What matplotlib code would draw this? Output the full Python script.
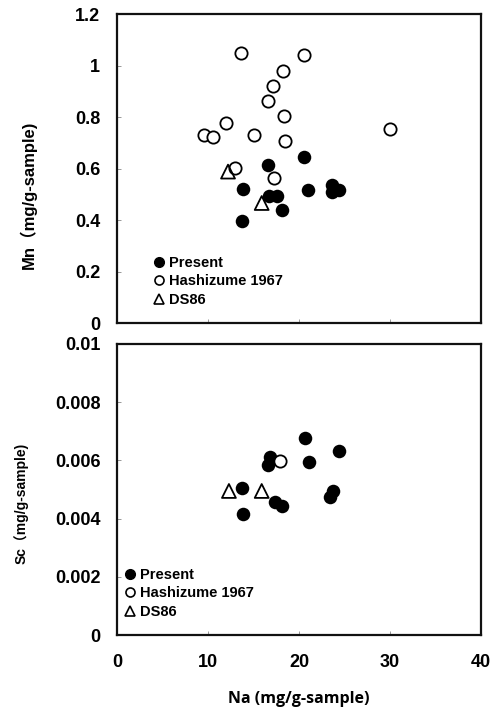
import matplotlib
matplotlib.use("Agg")
import matplotlib.pyplot as plt
from matplotlib.lines import Line2D

# ---------------- data ----------------
# Mn vs Na
mn_present_na = [20.6, 16.6, 13.8, 21.0, 23.6, 24.4, 23.6, 16.7, 17.6, 18.1, 13.7]
mn_present_mn = [0.643, 0.612, 0.522, 0.517, 0.537, 0.517, 0.508, 0.495, 0.495, 0.440, 0.398]
mn_hashi_na = [13.6, 20.6, 18.2, 17.1, 16.6, 18.3, 12.0, 9.6, 10.5, 15.1, 18.5, 30.0, 13.0, 17.3]
mn_hashi_mn = [1.050, 1.041, 0.980, 0.922, 0.863, 0.802, 0.776, 0.731, 0.722, 0.731, 0.705, 0.753, 0.601, 0.563]
mn_ds86_na = [12.2, 15.9]
mn_ds86_mn = [0.588, 0.466]

# Sc vs Na
sc_present_na = [20.7, 24.4, 16.8, 16.6, 21.1, 13.7, 23.7, 23.4, 17.4, 18.1, 13.8]
sc_present_sc = [0.00676, 0.00632, 0.00613, 0.00584, 0.00595, 0.00505, 0.00496, 0.00473, 0.00458, 0.00444, 0.00417]
sc_hashi_na = [17.9]
sc_hashi_sc = [0.00599]
sc_ds86_na = [12.3, 15.9]
sc_ds86_sc = [0.00495, 0.00495]

series_labels = ["Present", "Hashizume 1967", "DS86"]
x_ticks = [0, 10, 20, 30, 40]
x_ticklabels = ["0", "10", "20", "30", "40"]
mn_ticks = [0, 0.2, 0.4, 0.6, 0.8, 1.0, 1.2]
mn_ticklabels = ["0", "0.2", "0.4", "0.6", "0.8", "1", "1.2"]
sc_ticks = [0, 0.002, 0.004, 0.006, 0.008, 0.01]
sc_ticklabels = ["0", "0.002", "0.004", "0.006", "0.008", "0.01"]

# ---------------- figure ----------------
W, H = 490, 708
fig = plt.figure(figsize=(W / 100, H / 100), dpi=100)
FONT = ["Liberation Sans", "Noto Sans CJK JP", "DejaVu Sans"]
plt.rcParams["font.family"] = FONT

def px_axes(left, top, right, bottom):
    return fig.add_axes([left / W, 1 - bottom / H, (right - left) / W, (bottom - top) / H])

ax1 = px_axes(117, 14, 481, 323)
ax2 = px_axes(117, 344, 481, 635)

def style(ax):
    for s in ax.spines.values():
        s.set_linewidth(1.6)
        s.set_color("#111111")
    ax.tick_params(direction="in", length=3, width=0.6, color="#888888",
                   top=False, right=False)
    ax.set_xlim(0, 40)
    ax.set_xticks(x_ticks)

def draw(ax, pna, pv, hna, hv, dna, dv):
    ax.scatter(pna, pv, s=95, c="black", marker="o", linewidths=0, zorder=3)
    ax.scatter(hna, hv, s=78, facecolors="white", edgecolors="black",
               marker="o", linewidths=1.3, zorder=3)
    ax.scatter(dna, dv, s=100, facecolors="none", edgecolors="black",
               marker="^", linewidths=1.3, zorder=4)

def legend(ax, anchor):
    handles = [
        Line2D([], [], ls="none", marker="o", ms=7, mfc="black", mec="black"),
        Line2D([], [], ls="none", marker="o", ms=6.5, mfc="white", mec="black", mew=1.2),
        Line2D([], [], ls="none", marker="^", ms=7.5, mfc="white", mec="black", mew=1.2),
    ]
    ax.legend(handles, series_labels, loc="upper left", bbox_to_anchor=anchor,
              frameon=False, borderpad=0, borderaxespad=0, handlelength=0.7,
              handletextpad=0.3, labelspacing=0.3,
              prop={"family": FONT, "weight": "bold", "size": 10.5})

style(ax1)
draw(ax1, mn_present_na, mn_present_mn, mn_hashi_na, mn_hashi_mn, mn_ds86_na, mn_ds86_mn)
ax1.set_ylim(0, 1.2)
ax1.set_yticks(mn_ticks, mn_ticklabels)
ax1.set_xticklabels([])
ax1.tick_params(axis="y", labelsize=13, pad=12)
for t in ax1.get_yticklabels():
    t.set_fontweight("bold")
legend(ax1, ((154 - 117) / 364, (323 - 256) / 309))

style(ax2)
draw(ax2, sc_present_na, sc_present_sc, sc_hashi_na, sc_hashi_sc, sc_ds86_na, sc_ds86_sc)
ax2.set_ylim(0, 0.01)
ax2.set_yticks(sc_ticks, sc_ticklabels)
ax2.set_xticks(x_ticks, x_ticklabels)
ax2.tick_params(axis="y", labelsize=13, pad=12)
ax2.tick_params(axis="x", labelsize=13, pad=14)
for t in ax2.get_yticklabels() + ax2.get_xticklabels():
    t.set_fontweight("bold")
legend(ax2, ((125 - 117) / 364, (635 - 568) / 291))

# axis titles
fig.text(28 / W, 1 - 195 / H, "Mn（mg/g-sample)", rotation=90, ha="center", va="center",
         fontsize=12, fontweight="bold", family=FONT)
fig.text(21 / W, 1 - 503 / H, "Sc（mg/g-sample)", rotation=90, ha="center", va="center",
         fontsize=10, fontweight="bold", family=FONT)
fig.text(299 / W, 1 - 699 / H, "Na (mg/g-sample)", ha="center", va="center",
         fontsize=11.5, fontweight="bold", family=["Open Sans", "Lato", "DejaVu Sans"])

fig.savefig("out.png", dpi=100)
